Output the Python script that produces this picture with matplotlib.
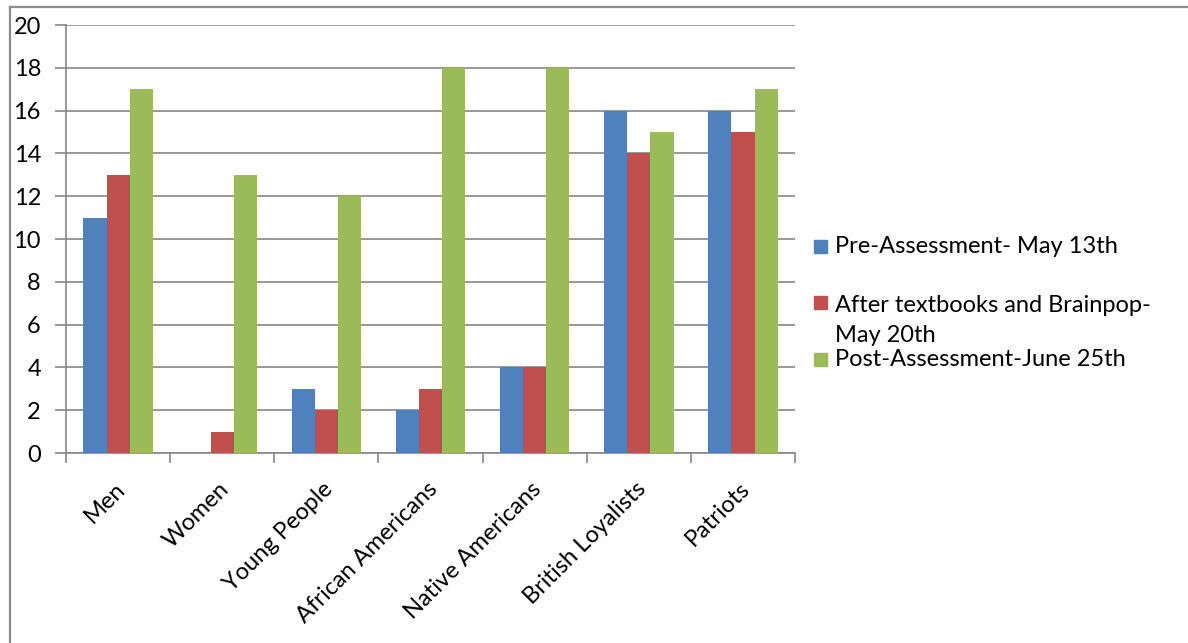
import numpy as np
import matplotlib
matplotlib.use("Agg")
import matplotlib.pyplot as plt
import matplotlib.transforms as mtransforms
from matplotlib.patches import Rectangle
from matplotlib.lines import Line2D

categories = ["Men", "Women", "Young People", "African Americans",
              "Native Americans", "British Loyalists", "Patriots"]
pre_assessment = [11, 0, 3, 2, 4, 16, 16]
after_textbooks = [13, 1, 2, 3, 4, 14, 15]
post_assessment = [17, 13, 12, 18, 18, 15, 17]

series_labels = ["Pre-Assessment- May 13th",
                 "After textbooks and Brainpop-\nMay 20th",
                 "Post-Assessment-June 25th"]
series_colors = ["#4F81BD", "#C0504D", "#9BBB59"]
y_ticks = [0, 2, 4, 6, 8, 10, 12, 14, 16, 18, 20]

plt.rcParams["font.family"] = ["Lato", "DejaVu Sans"]
FS = 17

W, H = 1188, 643
fig = plt.figure(figsize=(W / 100, H / 100), dpi=100)

# outer chart frame (top and left edges visible)
fig.add_artist(Line2D([10 / W, 10 / W], [0, 1 - 7 / H], transform=fig.transFigure,
                      color="#8c8c8c", lw=1.6))
fig.add_artist(Line2D([10 / W, 1], [1 - 7 / H, 1 - 7 / H], transform=fig.transFigure,
                      color="#8c8c8c", lw=1.6))

left, right, top, bottom = 66, 795, 25, 453
ax = fig.add_axes([left / W, 1 - bottom / H, (right - left) / W, (bottom - top) / H])

n = len(categories)
x = np.arange(n)
bar_w = 1 / 4.5
all_series = [pre_assessment, after_textbooks, post_assessment]
for i, (vals, col) in enumerate(zip(all_series, series_colors)):
    ax.bar(x + (i - 1) * bar_w, vals, width=bar_w, color=col, zorder=3)

ax.set_xlim(-0.5, n - 0.5)
ax.set_ylim(0, 20)
ax.set_yticks(y_ticks)
ax.set_yticklabels([str(t) for t in y_ticks], fontsize=FS)
ax.yaxis.grid(True, color="#868686", lw=1.2, zorder=0)
ax.tick_params(axis="y", length=8, width=1.2, color="#868686", pad=10)

# category boundary ticks on the x axis
ax.set_xticks(np.arange(n + 1) - 0.5, minor=False)
ax.set_xticklabels([])
ax.set_xticks(x, minor=True)
ax.set_xticklabels(categories, minor=True, fontsize=FS, rotation=45,
                   ha="right", va="top", rotation_mode="anchor")
ax.tick_params(axis="x", which="major", length=7, width=1.2, color="#868686", direction="out")
ax.tick_params(axis="x", which="minor", length=0, pad=18)
offset = mtransforms.ScaledTranslation(-4 / 100, 0, fig.dpi_scale_trans)
for lab in ax.get_xticklabels(minor=True):
    lab.set_transform(lab.get_transform() + offset)

for side in ["top", "right"]:
    ax.spines[side].set_visible(False)
ax.spines["left"].set_color("#868686")
ax.spines["left"].set_linewidth(1.2)
ax.spines["bottom"].set_color("#868686")
ax.spines["bottom"].set_linewidth(1.2)

# legend drawn in figure pixel positions
legend_rows = [(246, 247), (302, 306), (359, 359)]
for (my, ty), lab, col in zip(legend_rows, series_labels, series_colors):
    fig.add_artist(Rectangle((814 / W, 1 - (my + 6.5) / H), 13 / W, 13 / H,
                             transform=fig.transFigure, color=col))
    first, *rest = lab.split("\n")
    fig.text(835 / W, 1 - ty / H, first, fontsize=FS, va="center", ha="left")
    for k, line in enumerate(rest):
        fig.text(835 / W, 1 - (ty + 30 * (k + 1)) / H, line, fontsize=FS,
                 va="center", ha="left")

fig.savefig("out.png", dpi=100)
